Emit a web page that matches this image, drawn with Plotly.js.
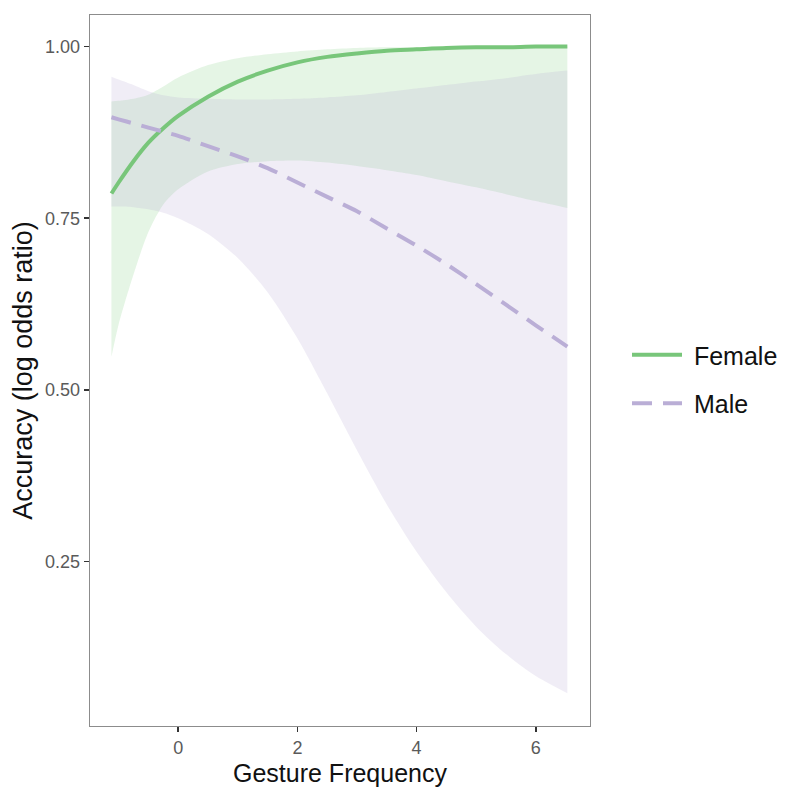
<!DOCTYPE html>
<html>
<head>
<meta charset="utf-8">
<script src="https://cdn.plot.ly/plotly-3.0.1.min.js"></script>
<style>html,body{margin:0;padding:0;background:#fff;}#chart{width:795px;height:798px;}</style>
</head>
<body>
<div id="chart"></div>
<script>
// Gesture frequency grid (x)
const gesture = [-1.12, -1.0, -0.75, -0.5, -0.25, 0, 0.5, 1, 1.5, 2, 2.5, 3, 3.5, 4, 4.5, 5, 5.5, 6, 6.53];

// Female fit and confidence band
const femaleFit   = [0.786, 0.802, 0.833, 0.860, 0.881, 0.899, 0.927, 0.949, 0.965, 0.977, 0.985, 0.990, 0.994, 0.996, 0.998, 0.999, 0.999, 1.000, 1.000];
const femaleUpper = [0.920, 0.921, 0.924, 0.930, 0.942, 0.955, 0.973, 0.983, 0.989, 0.993, 0.996, 0.998, 0.999, 0.999, 1.000, 1.000, 1.000, 1.000, 1.000];
const femaleLower = [0.548, 0.595, 0.668, 0.730, 0.770, 0.792, 0.818, 0.829, 0.833, 0.834, 0.831, 0.826, 0.820, 0.813, 0.804, 0.795, 0.785, 0.775, 0.765];

// Male fit and confidence band
const maleFit   = [0.897, 0.894, 0.888, 0.882, 0.876, 0.870, 0.855, 0.840, 0.823, 0.802, 0.781, 0.760, 0.735, 0.710, 0.683, 0.654, 0.624, 0.594, 0.563];
const maleUpper = [0.956, 0.952, 0.944, 0.935, 0.929, 0.926, 0.924, 0.923, 0.923, 0.924, 0.926, 0.929, 0.934, 0.939, 0.944, 0.949, 0.954, 0.960, 0.965];
const maleLower = [0.767, 0.767, 0.766, 0.763, 0.758, 0.750, 0.727, 0.692, 0.642, 0.575, 0.495, 0.412, 0.333, 0.264, 0.205, 0.155, 0.115, 0.083, 0.058];

const xTicks = [0, 2, 4, 6];
const yTicks = [0.25, 0.50, 0.75, 1.00];
const yTickText = ["0.25", "0.50", "0.75", "1.00"];
const seriesNames = ["Female", "Male"];

const green = "rgb(120,198,122)";
const purple = "rgb(186,174,214)";

function bandLower(x, lo) {
  return {x: x, y: lo, type: "scatter", mode: "lines",
          line: {width: 0, shape: "spline", smoothing: 0.8}, hoverinfo: "skip", showlegend: false};
}
function bandUpper(x, up, color) {
  return {x: x, y: up, type: "scatter", mode: "lines", fill: "tonexty", fillcolor: color,
          line: {width: 0, shape: "spline", smoothing: 0.8}, hoverinfo: "skip", showlegend: false};
}

const data = [
  bandLower(gesture, femaleLower),
  bandUpper(gesture, femaleUpper, "rgba(125,205,125,0.2)"),
  bandLower(gesture, maleLower),
  bandUpper(gesture, maleUpper, "rgba(180,165,210,0.2)"),
  {x: gesture, y: femaleFit, type: "scatter", mode: "lines", name: "\u00a0" + seriesNames[0],
   legendgroup: "f", line: {color: green, width: 4, shape: "spline", smoothing: 0.8}},
  {x: gesture, y: maleFit, type: "scatter", mode: "lines", name: "\u00a0" + seriesNames[1],
   legendgroup: "m", line: {color: purple, width: 4, dash: "20px,11px", shape: "spline", smoothing: 0.8}}
];

const layout = {
  width: 795, height: 798,
  margin: {l: 90, r: 205, t: 15, b: 72},
  paper_bgcolor: "#fff", plot_bgcolor: "#fff",
  font: {family: "Liberation Sans, Arial, sans-serif"},
  xaxis: {
    range: [-1.48, 6.91], tickvals: xTicks, ticktext: xTicks.map(String),
    showgrid: false, zeroline: false,
    showline: true, mirror: true, linecolor: "#8c8c8c", linewidth: 1.3,
    ticks: "outside", ticklen: 5, tickwidth: 1.5, tickcolor: "#333",
    tickfont: {size: 18, color: "#5a5a5a"},
    title: {text: "Gesture Frequency", font: {size: 25, color: "#111"}, standoff: 7}
  },
  yaxis: {
    range: [0.0103, 1.046], tickvals: yTicks, ticktext: yTickText,
    showgrid: false, zeroline: false,
    showline: true, mirror: true, linecolor: "#8c8c8c", linewidth: 1.3,
    ticks: "outside", ticklen: 5, tickwidth: 1.5, tickcolor: "#333",
    tickfont: {size: 18, color: "#5a5a5a"},
    title: {text: "Accuracy (log odds ratio)", font: {size: 27, color: "#111"}, standoff: 4}
  },
  legend: {
    x: 1.074, xanchor: "left", y: 0.488, yanchor: "middle",
    font: {size: 25, color: "#111"}, traceorder: "grouped", tracegroupgap: 13,
    itemwidth: 50, bgcolor: "rgba(0,0,0,0)"
  },
  showlegend: true
};

Plotly.newPlot("chart", data, layout, {displayModeBar: false, staticPlot: true});
</script>
</body>
</html>
